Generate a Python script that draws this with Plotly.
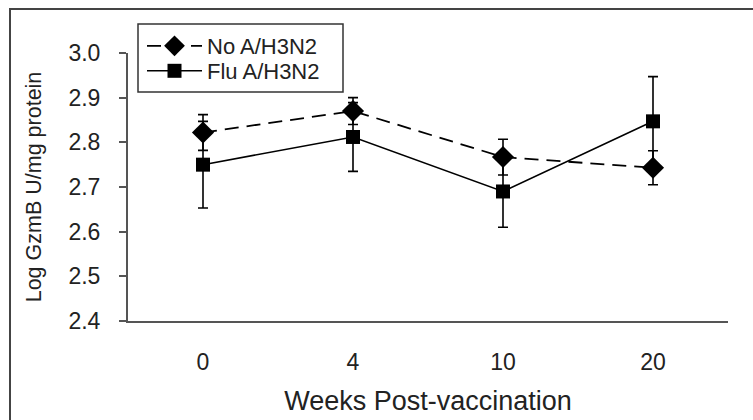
import plotly.graph_objects as go

weeks = ["0", "4", "10", "20"]
no_h3n2 = [2.822, 2.870, 2.767, 2.743]
no_h3n2_err = [0.040, 0.030, 0.040, 0.038]
flu_h3n2 = [2.750, 2.812, 2.690, 2.847]
flu_h3n2_err = [0.097, 0.077, 0.080, 0.100]

font_family = "Liberation Sans, Arial, sans-serif"

# plot-area pixel geometry
PX0, PX1, PY0, PY1 = 128, 728, 53, 321
W, H = 753, 420


def px(x):
    return (x - PX0) / (PX1 - PX0)


def py(y):
    return (PY1 - y) / (PY1 - PY0)


fig = go.Figure()
fig.add_trace(go.Scatter(
    x=weeks, y=no_h3n2, name="No A/H3N2", mode="lines+markers",
    line=dict(color="black", width=1.8, dash="14px,8px"),
    marker=dict(symbol="diamond", size=17, color="black"),
    error_y=dict(type="data", array=no_h3n2_err, color="black", thickness=1.6, width=5),
    legend="legend",
))
fig.add_trace(go.Scatter(
    x=weeks, y=flu_h3n2, name="Flu A/H3N2", mode="lines+markers",
    line=dict(color="black", width=1.6),
    marker=dict(symbol="square", size=14, color="black"),
    error_y=dict(type="data", array=flu_h3n2_err, color="black", thickness=1.6, width=5),
    legend="legend2",
))

leg_common = dict(
    xanchor="left", yanchor="middle", bgcolor="rgba(0,0,0,0)", borderwidth=0,
    font=dict(size=22, family=font_family, color="#222"), itemwidth=55,
)

fig.update_layout(
    width=W, height=H,
    margin=dict(l=PX0, r=W - PX1, t=PY0, b=H - PY1, autoexpand=False),
    paper_bgcolor="white", plot_bgcolor="white",
    font=dict(family=font_family, color="#222", size=22),
    showlegend=True,
    legend=dict(x=px(142), y=py(46), **leg_common),
    legend2=dict(x=px(142), y=py(71), **leg_common),
    xaxis=dict(
        type="category", range=[-0.5, 3.5], automargin=False,
        showline=True, linecolor="#555", linewidth=2,
        ticks="", showgrid=False, zeroline=False,
        tickfont=dict(size=23), ticklabelstandoff=19,
        title=dict(text="Weeks Post-vaccination", font=dict(size=27), standoff=18),
    ),
    yaxis=dict(
        range=[2.4, 3.0], dtick=0.1, tickformat=".1f", automargin=False,
        showline=True, linecolor="#555", linewidth=2,
        ticks="outside", ticklen=7, tickcolor="#555", tickwidth=1.5,
        showgrid=False, zeroline=False,
        tickfont=dict(size=23), ticklabelstandoff=14,
        title=dict(text="Log GzmB U/mg protein", font=dict(size=21.5), standoff=21),
    ),
    shapes=[
        dict(
            type="rect", xref="paper", yref="paper",
            x0=px(10), x1=px(760), y0=py(430), y1=py(9),
            line=dict(color="#444", width=2), fillcolor="rgba(0,0,0,0)", layer="below",
        ),
        dict(
            type="rect", xref="paper", yref="paper",
            x0=px(138), x1=px(343), y0=py(92), y1=py(24),
            line=dict(color="#333", width=1.5), fillcolor="white", layer="below",
        ),
    ],
)

fig.write_html("out.html")
